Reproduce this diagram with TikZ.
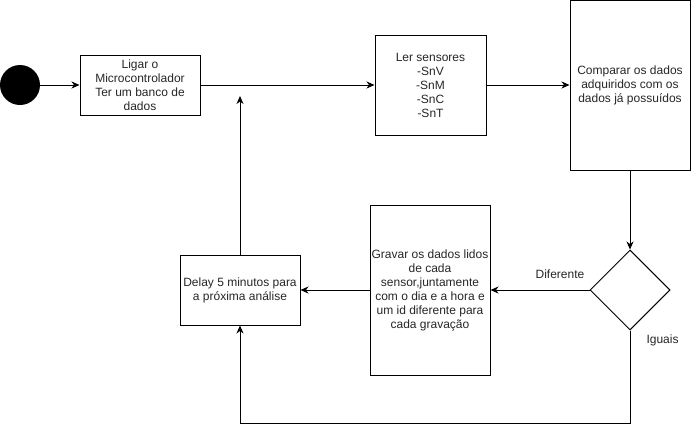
\documentclass[tikz,border=0pt]{standalone}
\usepackage{fontspec}
\setmainfont{Liberation Sans}
\usetikzlibrary{arrows.meta,shapes.geometric}
\begin{document}
\begin{tikzpicture}[x=1pt,y=-1pt,
  every node/.style={font=\fontsize{12}{14}\selectfont, text=black!85},
  box/.style={draw, line width=1pt, align=center, inner sep=0pt},
  flow/.style={line width=1pt, -{Stealth[length=8pt,width=7pt,inset=2.5pt]}},
  plain/.style={line width=1pt}]
\useasboundingbox (0,0) rectangle (691,434);
% start point
\node[circle, fill=black, minimum size=40pt, inner sep=0pt] (start) at (20,85) {};
% process boxes
\node[box, minimum width=120pt, minimum height=60pt] (ligar) at (140,85)
  {Ligar o\\Microcontrolador\\Ter um banco de\\dados};
\node[box, minimum width=111pt, minimum height=100pt] (ler) at (430.5,85)
  {Ler sensores\\-SnV\\-SnM\\-SnC\\-SnT};
\node[box, minimum width=120pt, minimum height=170pt] (comp) at (630,85)
  {Comparar os dados\\adquiridos com os\\dados já possuídos};
\node[draw, line width=1pt, diamond, aspect=1, minimum width=80pt, minimum height=80pt, inner sep=0pt] (dec) at (630,290) {};
\node[box, minimum width=120pt, minimum height=170pt] (grav) at (430,290)
  {Gravar os dados lidos\\de cada\\sensor,juntamente\\com o dia e a hora e\\um id diferente para\\cada gravação};
\node[box, minimum width=120pt, minimum height=70pt] (delay) at (240,290)
  {Delay 5 minutos para\\a próxima análise};
% helper points
\coordinate (upend) at (240,96);
\coordinate (c1) at (630,423);
\coordinate (c2) at (240,423);
% connectors
\draw[flow] (start) -- (ligar);
\draw[flow] (ligar) -- (ler);
\draw[flow] (ler) -- (comp);
\draw[flow] (comp) -- (dec);
\draw[flow] (dec.west) -- (grav.east);
\draw[flow] (grav) -- (delay);
\draw[flow] (delay.north) -- (upend);
\draw[flow] (dec.south) -- (c1) -- (c2) -- (delay.south);
% branch labels
\node (dif) at (560,274) {Diferente};
\node[anchor=west] (iguais) at (643,340) {Iguais};
\end{tikzpicture}
\end{document}
